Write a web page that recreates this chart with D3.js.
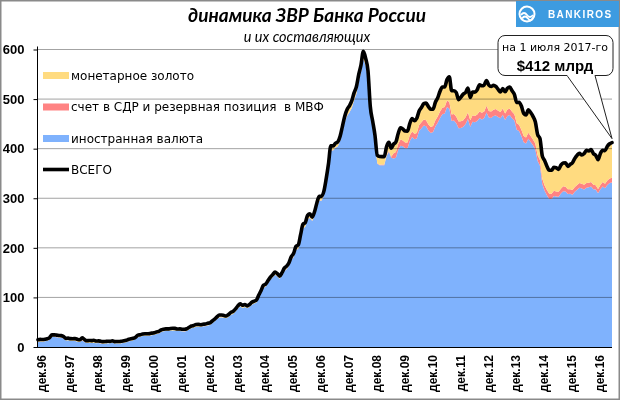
<!DOCTYPE html>
<html><head><meta charset="utf-8">
<script src="https://cdn.jsdelivr.net/npm/d3@7"></script>
<style>body{margin:0;background:#fff}svg{display:block}</style>
</head><body>
<svg id="c" width="620" height="400"></svg>
<script>
// monthly data, Dec 1996 .. Jul 2017 (bn USD)
const total = [
  14.6,
  15.3, 15.1, 15.6, 16.7, 19.1, 24.5, 24.5, 24.0, 23.3, 22.9, 21.3, 17.3,
  17.8, 16.8, 16.7, 16.9, 15.4, 14.6, 18.4, 15.1, 12.5, 13.2, 12.9, 13.6,
  12.2, 12.3, 11.6, 10.8, 11.1, 11.6, 11.3, 12.4, 10.9, 11.2, 11.2, 11.7,
  12.5, 13.7, 15.5, 16.4, 17.7, 19.9, 24.0, 24.8, 26.2, 26.8, 26.6, 27.0,
  28.0, 28.7, 30.5, 31.5, 34.5, 35.9, 36.6, 36.5, 37.3, 37.7, 37.5, 36.2,
  36.6, 35.7, 35.8, 36.8, 39.7, 42.4, 43.5, 45.4, 45.7, 44.8, 45.9, 46.4,
  47.8, 48.8, 52.5, 56.2, 60.7, 64.4, 64.4, 63.5, 62.6, 65.5, 69.8, 72.0,
  76.9, 82.9, 87.1, 84.1, 85.7, 83.0, 85.8, 90.1, 92.4, 94.7, 104.7, 114.0,
  124.5, 127.0, 134.1, 141.0, 146.0, 151.0, 148.0, 143.0, 150.0, 159.0, 163.0, 170.0,
  182.2, 188.9, 202.9, 205.9, 226.5, 247.3, 250.6, 265.6, 268.7, 262.0, 272.8, 290.5,
  303.7, 303.9, 313.9, 339.0, 369.6, 405.8, 405.5, 410.9, 413.6, 425.0, 445.1, 465.5,
  478.8, 486.5, 496.3, 512.6, 524.8, 549.3, 569.0, 596.6, 582.2, 556.8, 484.6, 455.7,
  427.1, 386.5, 384.1, 383.9, 383.9, 404.2, 412.6, 400.9, 409.0, 413.4, 430.6, 442.3,
  439.5, 435.5, 435.2, 451.0, 460.6, 456.4, 461.2, 475.9, 482.9, 490.7, 491.9, 484.8,
  479.4, 479.7, 493.7, 502.5, 515.8, 524.5, 524.5, 539.3, 545.0, 516.8, 516.8, 513.0,
  498.6, 504.1, 510.0, 513.3, 522.5, 503.3, 514.3, 514.1, 518.9, 529.0, 526.8, 528.5,
  537.6, 528.1, 525.4, 527.7, 525.4, 519.7, 514.2, 521.2, 514.7, 522.0, 524.3, 516.8,
  509.6, 493.1, 493.4, 486.1, 471.3, 468.2, 478.3, 472.9, 465.2, 454.2, 428.6, 420.4,
  385.5, 376.2, 364.6, 356.4, 356.4, 362.4, 361.6, 358.0, 366.9, 371.1, 371.6, 364.3,
  368.4, 371.6, 380.5, 386.9, 390.6, 387.2, 390.2, 396.7, 395.4, 398.0, 390.2, 386.4,
  377.7, 390.4, 396.8, 396.0, 405.0, 410.0, 412.2
];
const gold = [
  4.0,
  4.0, 4.0, 3.9, 3.9, 4.0, 4.0, 3.9, 3.8, 3.9, 3.9, 3.8, 4.0,
  4.0, 4.2, 4.3, 4.5, 4.6, 4.4, 4.5, 4.5, 4.4, 4.5, 4.6, 4.8,
  4.5, 4.3, 4.2, 4.1, 4.0, 3.9, 3.7, 3.6, 3.6, 3.7, 3.9, 4.0,
  4.0, 4.0, 4.1, 4.0, 4.0, 3.9, 4.0, 4.1, 4.1, 4.0, 4.0, 4.0,
  4.2, 4.1, 4.1, 4.0, 4.0, 4.0, 4.1, 4.0, 4.1, 4.2, 4.1, 4.0,
  4.1, 4.0, 4.2, 4.3, 4.3, 4.4, 4.5, 4.4, 4.2, 4.2, 4.1, 4.2,
  4.3, 4.4, 4.6, 4.4, 4.4, 4.7, 4.6, 4.5, 4.7, 5.0, 4.9, 5.2,
  5.4, 5.2, 5.0, 5.3, 4.9, 4.7, 4.8, 4.7, 4.7, 4.8, 5.0, 5.2,
  5.3, 5.1, 5.1, 5.3, 5.1, 5.1, 5.3, 5.2, 5.4, 5.7, 5.8, 6.1,
  6.4, 7.0, 7.3, 7.2, 8.0, 8.5, 7.9, 8.1, 8.2, 7.6, 7.5, 8.0,
  8.1, 8.4, 8.6, 8.6, 8.9, 8.8, 8.5, 8.7, 8.5, 9.1, 10.3, 11.0,
  12.0, 12.9, 14.2, 14.8, 13.5, 13.5, 14.0, 15.3, 13.8, 13.6, 13.5, 12.5,
  14.5, 16.0, 16.5, 15.8, 15.9, 17.3, 17.0, 17.3, 18.0, 20.0, 21.2, 24.0,
  22.8, 23.0, 22.6, 24.0, 26.0, 26.5, 29.4, 28.0, 29.8, 32.0, 34.6, 36.0,
  35.8, 34.0, 36.6, 37.5, 41.0, 42.0, 40.6, 42.0, 51.0, 48.0, 47.0, 48.8,
  43.9, 49.0, 52.5, 50.0, 49.5, 46.0, 47.0, 48.0, 50.0, 54.0, 54.5, 53.5,
  51.0, 52.0, 50.5, 49.0, 45.5, 43.0, 40.0, 40.0, 44.0, 43.0, 43.5, 42.5,
  40.0, 42.0, 45.0, 48.0, 46.0, 45.5, 46.0, 47.5, 46.5, 44.0, 42.0, 43.5,
  46.0, 50.5, 48.0, 47.5, 47.5, 47.5, 48.0, 45.0, 47.5, 47.0, 48.5, 46.0,
  50.0, 55.0, 58.0, 60.0, 60.0, 58.0, 63.0, 66.0, 64.0, 65.0, 63.0, 60.0,
  59.0, 63.5, 64.0, 67.0, 69.0, 70.0, 71.0
];
const sdr = [
  0.3,
  0.3, 0.3, 0.3, 0.2, 0.3, 0.3, 0.3, 0.3, 0.2, 0.2, 0.2, 0.2,
  0.1, 0.1, 0.1, 0.1, 0.1, 0.2, 0.9, 0.3, 0.1, 0.1, 0.1, 0.1,
  0.0, 0.1, 0.1, 0.1, 0.1, 0.1, 0.1, 0.2, 0.1, 0.1, 0.1, 0.1,
  0.0, 0.0, 0.0, 0.1, 0.1, 0.1, 0.1, 0.1, 0.1, 0.1, 0.1, 0.1,
  0.1, 0.1, 0.1, 0.1, 0.1, 0.1, 0.1, 0.1, 0.1, 0.1, 0.1, 0.1,
  0.1, 0.1, 0.1, 0.1, 0.1, 0.1, 0.1, 0.1, 0.1, 0.1, 0.1, 0.1,
  0.1, 0.1, 0.1, 0.1, 0.1, 0.1, 0.1, 0.1, 0.1, 0.1, 0.1, 0.1,
  0.1, 0.1, 0.1, 0.1, 0.2, 0.2, 0.2, 0.2, 0.2, 0.2, 0.2, 0.2,
  0.2, 0.3, 0.3, 0.3, 0.3, 0.3, 0.3, 0.3, 0.3, 0.3, 0.3, 0.3,
  0.3, 0.3, 0.4, 0.4, 0.4, 0.4, 0.4, 0.4, 0.4, 0.4, 0.5, 0.5,
  0.5, 0.5, 0.5, 0.5, 0.6, 0.6, 0.6, 0.6, 0.6, 0.6, 0.7, 0.7,
  0.7, 0.7, 0.8, 0.8, 0.8, 0.8, 0.9, 0.9, 0.9, 1.0, 1.0, 1.0,
  1.0, 1.1, 1.2, 1.3, 1.3, 1.5, 1.6, 1.8, 10.6, 11.5, 12.0, 12.2,
  12.0, 11.8, 11.7, 11.6, 11.3, 11.0, 11.2, 11.6, 11.7, 12.1, 12.3, 12.1,
  12.2, 12.3, 12.5, 12.7, 12.9, 13.0, 13.0, 13.1, 13.4, 13.0, 13.1, 13.1,
  13.4, 13.6, 13.5, 13.4, 13.3, 12.9, 12.9, 13.0, 13.2, 13.4, 13.5, 13.4,
  13.5, 13.4, 13.2, 13.0, 12.9, 12.8, 12.7, 12.9, 12.9, 13.1, 13.0, 12.9,
  12.8, 12.7, 12.8, 12.7, 12.6, 12.5, 12.4, 12.2, 12.0, 11.7, 11.5, 11.3,
  11.0, 10.6, 10.3, 10.2, 10.4, 10.3, 10.2, 10.0, 9.9, 9.8, 9.7, 9.5,
  9.4, 9.5, 9.6, 9.7, 9.6, 9.6, 9.5, 9.4, 9.4, 9.3, 9.0, 8.8,
  8.8, 8.9, 9.0, 9.0, 9.1, 9.2, 9.3
];
const yTicks = [0, 100, 200, 300, 400, 500, 600];
const xLabels = ["дек.96","дек.97","дек.98","дек.99","дек.00","дек.01","дек.02","дек.03","дек.04","дек.05","дек.06","дек.07","дек.08","дек.09","дек.10","дек.11","дек.12","дек.13","дек.14","дек.15","дек.16"];
const seriesNames = ["монетарное золото", "счет в СДР и резервная позиция\u00a0 в МВФ", "иностранная валюта", "ВСЕГО"];
const titleText = "динамика ЗВР Банка России";
const subtitleText = "и их составляющих";
const noteLine1 = "на 1 июля 2017-го";
const noteLine2 = "$412 млрд";

const colors = {fx: "#7fb2fd", sdr: "#ff8383", gold: "#ffdb80"};

const svg = d3.select("#c");
const n = total.length;
const rows = total.map((t, i) => ({i, fx: t - gold[i] - sdr[i], sdr: sdr[i], gold: gold[i], total: t}));

const x = d3.scaleLinear().domain([0, n - 1]).range([38, 612]);
const y = d3.scaleLinear().domain([0, 600]).range([347, 49.5]);

// outer border
svg.append("rect").attr("x", 0.75).attr("y", 0.75).attr("width", 618.5).attr("height", 398.5)
  .attr("fill", "#fff").attr("stroke", "#8a8a8a").attr("stroke-width", 1.5);

// stacked areas
const stack = d3.stack().keys(["fx", "sdr", "gold"]);
const layers = stack(rows);
const area = d3.area().x(d => x(d.data.i)).y0(d => y(d[0])).y1(d => y(d[1]));
svg.append("g").selectAll("path").data(layers).join("path")
  .attr("d", area).attr("fill", d => colors[d.key]);

// gridlines (multiplied over areas)
svg.append("g").selectAll("line").data(yTicks.filter(v => v > 0)).join("line")
  .attr("x1", 37).attr("x2", 612).attr("y1", d => y(d)).attr("y2", d => y(d))
  .attr("stroke", "#a3a3a3").attr("stroke-width", 1).style("mix-blend-mode", "multiply");

// total line
const line = d3.line().x(d => x(d.i)).y(d => y(d.total)).curve(d3.curveMonotoneX);
svg.append("path").datum(rows).attr("d", line).attr("fill", "none")
  .attr("stroke", "#000").attr("stroke-width", 3.6).attr("stroke-linejoin", "round").attr("stroke-linecap", "round");

// y axis
const yAxis = d3.axisLeft(y).tickValues(yTicks).tickSize(4).tickPadding(9).tickFormat(d3.format("d"));
const gy = svg.append("g").attr("transform", "translate(37.5,0)").call(yAxis);
gy.select(".domain").remove();
gy.selectAll(".tick line").attr("stroke", "#000");
gy.selectAll("text").attr("font-family", "Liberation Sans, Arial, sans-serif").attr("font-weight", "bold").attr("font-size", 13).attr("fill", "#000");
svg.append("line").attr("x1", 37.5).attr("x2", 37.5).attr("y1", 46.5).attr("y2", 347).attr("stroke", "#000");
svg.append("line").attr("x1", 37).attr("x2", 612).attr("y1", 347.5).attr("y2", 347.5).attr("stroke", "#000");

// x labels
svg.append("g").selectAll("text").data(xLabels).join("text")
  .attr("transform", (d, k) => `translate(${x(k * 12) + 4},355) rotate(-90)`)
  .attr("text-anchor", "end").attr("dy", "0.36em")
  .attr("font-family", "Liberation Sans, Arial, sans-serif").attr("font-weight", "bold").attr("font-size", 12)
  .text(d => d);

// legend
const lg = svg.append("g").attr("font-family", "DejaVu Sans, sans-serif").attr("font-size", 12);
const legendRows = [
  {name: seriesNames[0], color: colors.gold, cy: 75.5},
  {name: seriesNames[1], color: colors.sdr, cy: 107},
  {name: seriesNames[2], color: colors.fx, cy: 138.5},
  {name: seriesNames[3], color: null, cy: 169.5}
];
legendRows.forEach(r => {
  if (r.color) {
    lg.append("rect").attr("x", 43).attr("y", r.cy - 3.5).attr("width", 26).attr("height", 7).attr("fill", r.color);
  } else {
    lg.append("line").attr("x1", 43).attr("x2", 69).attr("y1", r.cy).attr("y2", r.cy).attr("stroke", "#000").attr("stroke-width", 3.6);
  }
  lg.append("text").attr("x", 71).attr("y", r.cy).attr("dy", "0.36em").text(r.name);
});

// title
svg.append("text").attr("x", 307).attr("y", 22).attr("text-anchor", "middle")
  .attr("font-family", "Lato, sans-serif").attr("font-style", "italic").attr("font-weight", "bold").attr("font-size", 19)
  .text(titleText);
svg.append("text").attr("x", 307).attr("y", 42).attr("text-anchor", "middle")
  .attr("font-family", "Lato, sans-serif").attr("font-style", "italic").attr("font-size", 14.5)
  .text(subtitleText);

// logo
const logo = svg.append("g");
logo.append("rect").attr("x", 516).attr("y", 1).attr("width", 103).attr("height", 26).attr("fill", "#3d9be0");
logo.append("circle").attr("cx", 527).attr("cy", 14).attr("r", 7.5).attr("fill", "none").attr("stroke", "#fff").attr("stroke-width", 2);
logo.append("path").attr("d", "M521,15 q3,-4 6,0 t6,0").attr("fill", "none").attr("stroke", "#fff").attr("stroke-width", 1.8);
logo.append("path").attr("d", "M522,18.5 q3,-4 6,0 t5,-1").attr("fill", "none").attr("stroke", "#fff").attr("stroke-width", 1.8);
logo.append("text").attr("x", 548).attr("y", 18).attr("fill", "#fff")
  .attr("font-family", "Liberation Sans, Arial, sans-serif").attr("font-weight", "bold").attr("font-size", 10).attr("letter-spacing", 1.4)
  .text("BANKIROS");

// callout
const tipX = x(n - 1), tipY = y(total[n - 1]) - 4;
const call = svg.append("g");
call.append("rect").attr("x", 498).attr("y", 35.5).attr("width", 115).attr("height", 40).attr("rx", 7)
  .attr("fill", "#fff").attr("stroke", "#222").attr("stroke-width", 1);
call.append("path").attr("d", `M567,75.5 L${tipX},${tipY} L595,75.5`).attr("fill", "#fff").attr("stroke", "#222").attr("stroke-width", 1);
call.append("line").attr("x1", 567.5).attr("x2", 594.5).attr("y1", 75.5).attr("y2", 75.5).attr("stroke", "#fff").attr("stroke-width", 1.6);
call.append("text").attr("x", 555).attr("y", 51).attr("text-anchor", "middle")
  .attr("font-family", "DejaVu Sans, sans-serif").attr("font-size", 11).text(noteLine1);
call.append("text").attr("x", 555).attr("y", 71).attr("text-anchor", "middle")
  .attr("font-family", "Liberation Sans, Arial, sans-serif").attr("font-weight", "bold").attr("font-size", 15).text(noteLine2);
</script>
</body></html>
